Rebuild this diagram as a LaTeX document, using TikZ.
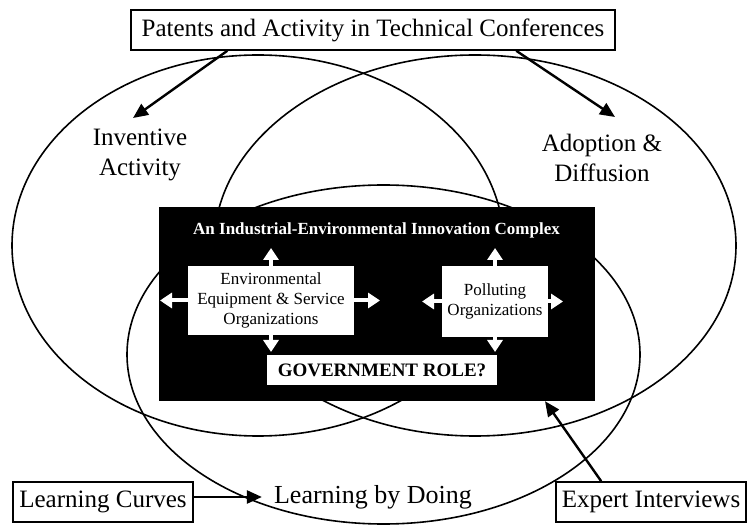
\documentclass[tikz,border=0pt]{standalone}
\usepackage{fontspec}
\setmainfont{Liberation Serif}
\usetikzlibrary{arrows.meta, positioning, calc}

\begin{document}
\begin{tikzpicture}[
    x=1pt, y=-1pt,
    ring/.style={line width=1.6pt},
    source/.style={rectangle, draw=black, line width=1.6pt, fill=white, inner sep=0pt, font=\fontsize{25}{30}\selectfont},
    field/.style={align=center, inner sep=2pt, font=\fontsize{25}{30}\selectfont},
    actor/.style={rectangle, fill=white, align=center, inner sep=0pt, font=\fontsize{17}{20}\selectfont},
    arrow/.style={line width=2.4pt, -{Triangle[length=15pt, width=13pt]}},
    flow/.style={white, line width=4pt, -{Triangle[length=12pt, width=15pt]}}
]
\useasboundingbox (0,0) rectangle (747,526);

% Overlapping fields
\draw[ring] (258,245.5) ellipse [x radius=246, y radius=190.5];
\draw[ring] (475,245.5) ellipse [x radius=261, y radius=190.5];
\draw[ring] (383.5,354.5) ellipse [x radius=256.5, y radius=169.5];

% Innovation complex
\node[fill=black, minimum width=436pt, minimum height=194pt, inner sep=0pt] (complex) at (377,304) {};
\node[text=white, font=\bfseries\fontsize{17}{20}\selectfont] (title) at (376.5,230) {An Industrial-Environmental Innovation Complex};
\node[actor, minimum width=166pt, minimum height=69pt] (env) at (271,300.5) {Environmental\\Equipment \& Service\\Organizations};
\node[actor, minimum width=106pt, minimum height=71pt] (pol) at (495,301.5) {Polluting\\Organizations};
\node[actor, minimum width=230pt, minimum height=30pt, font=\bfseries\fontsize{19}{22}\selectfont] (gov) at (382,370) {GOVERNMENT ROLE?};

\coordinate (envN) at (271,248);
\coordinate (envS) at (271,352);
\coordinate (envW) at (160,300.5);
\coordinate (envE) at (380,300.5);
\coordinate (polN) at (495,248);
\coordinate (polS) at (495,352);
\coordinate (polW) at (422,301.5);
\coordinate (polE) at (563,301.5);

\draw[flow] (env.north) -- (envN);
\draw[flow] (env.south) -- (envS);
\draw[flow] (env.west) -- (envW);
\draw[flow] (env.east) -- (envE);
\draw[flow] (pol.north) -- (polN);
\draw[flow] (pol.south) -- (polS);
\draw[flow] (pol.west) -- (polW);
\draw[flow] (pol.east) -- (polE);

% Field labels
\node[field] (inventive) at (140,155) {Inventive\\Activity};
\node[field] (adoption) at (602,158) {Adoption \&\\Diffusion};
\node[field, font=\fontsize{26}{30}\selectfont] (doing) at (373,497) {Learning by Doing};

% Sources
\node[source, minimum width=484pt, minimum height=40pt] (patents) at (373,30) {Patents and Activity in Technical Conferences};
\node[source, minimum width=180pt, minimum height=40pt] (curves) at (103,502) {Learning Curves};
\node[source, minimum width=190pt, minimum height=40pt] (expert) at (651,502) {Expert Interviews};

\coordinate (invtip) at (133,118);
\coordinate (adotip) at (615,117);

\draw[arrow] ($(patents.south west)!0.2!(patents.south east)$) -- (invtip);
\draw[arrow] ($(patents.south west)!0.795!(patents.south east)$) -- (adotip);
\draw[arrow, shorten >=10pt] (curves.east |- doing.west) -- (doing.west);
\draw[arrow] ($(expert.north west)!0.24!(expert.north east)$) -- ($(complex.south west)!0.885!(complex.south east)$);

\end{tikzpicture}
\end{document}
